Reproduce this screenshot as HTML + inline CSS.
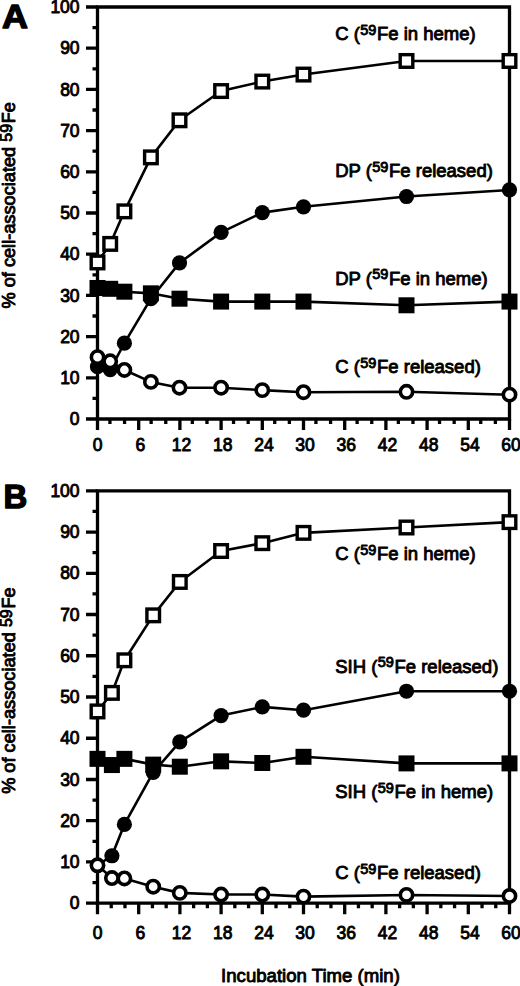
<!DOCTYPE html>
<html><head><meta charset="utf-8"><style>
html,body{margin:0;padding:0;background:#fff;}
svg{display:block;}
text{font-family:"Liberation Sans",sans-serif;fill:#000;stroke:#000;stroke-width:0.9px;stroke-linejoin:round;}
.t{font-size:17.5px;}
.l{font-size:18.5px;}
.s{font-size:14.5px;}
.y{font-size:18.2px;}
.ys{font-size:16.0px;}
.x{font-size:18.6px;}
.p{font-size:33.6px;font-weight:bold;stroke-width:1.4px;}
</style></head><body>
<svg width="520" height="986" viewBox="0 0 520 986">
<path d="M97.5 7H509.5V419H97.5Z" fill="none" stroke="#000" stroke-width="3.3"/>
<path d="M86 419H97.5 M92.5 398.4H97.5 M86 377.8H97.5 M92.5 357.2H97.5 M86 336.6H97.5 M92.5 316H97.5 M86 295.4H97.5 M92.5 274.8H97.5 M86 254.2H97.5 M92.5 233.6H97.5 M86 213H97.5 M92.5 192.4H97.5 M86 171.8H97.5 M92.5 151.2H97.5 M86 130.6H97.5 M92.5 110H97.5 M86 89.4H97.5 M92.5 68.8H97.5 M86 48.2H97.5 M92.5 27.6H97.5 M86 7H97.5 M97.5 419V430 M109.93 419V424 M124.57 419V424 M138.7 419V430 M151.13 419V424 M165.77 419V424 M179.9 419V430 M192.33 419V424 M206.97 419V424 M221.1 419V430 M233.53 419V424 M248.17 419V424 M262.3 419V430 M274.73 419V424 M289.37 419V424 M303.5 419V430 M315.93 419V424 M330.57 419V424 M344.7 419V430 M357.13 419V424 M371.77 419V424 M385.9 419V430 M398.33 419V424 M412.97 419V424 M427.1 419V430 M439.53 419V424 M454.17 419V424 M468.3 419V430 M480.73 419V424 M495.37 419V424 M509.5 419V430" stroke="#000" stroke-width="3.3" fill="none"/>
<text x="79.6" y="425.1" text-anchor="end" class="t">0</text>
<text x="79.6" y="383.9" text-anchor="end" class="t">10</text>
<text x="79.6" y="342.7" text-anchor="end" class="t">20</text>
<text x="79.6" y="301.5" text-anchor="end" class="t">30</text>
<text x="79.6" y="260.3" text-anchor="end" class="t">40</text>
<text x="79.6" y="219.1" text-anchor="end" class="t">50</text>
<text x="79.6" y="177.9" text-anchor="end" class="t">60</text>
<text x="79.6" y="136.7" text-anchor="end" class="t">70</text>
<text x="79.6" y="95.5" text-anchor="end" class="t">80</text>
<text x="79.6" y="54.3" text-anchor="end" class="t">90</text>
<text x="79.6" y="13.1" text-anchor="end" class="t">100</text>
<text x="97.5" y="451.1" text-anchor="middle" class="t">0</text>
<text x="140.3" y="451.1" text-anchor="middle" class="t">6</text>
<text x="181.5" y="451.1" text-anchor="middle" class="t">12</text>
<text x="222.7" y="451.1" text-anchor="middle" class="t">18</text>
<text x="263.9" y="451.1" text-anchor="middle" class="t">24</text>
<text x="305.1" y="451.1" text-anchor="middle" class="t">30</text>
<text x="346.3" y="451.1" text-anchor="middle" class="t">36</text>
<text x="387.5" y="451.1" text-anchor="middle" class="t">42</text>
<text x="428.7" y="451.1" text-anchor="middle" class="t">48</text>
<text x="469.9" y="451.1" text-anchor="middle" class="t">54</text>
<text x="511.1" y="451.1" text-anchor="middle" class="t">60</text>
<polyline points="97.5,287.98 110.2,288.81 124.4,291.69 150.9,293.34 179.5,298.7 221.1,301.58 262.3,301.58 303.5,301.58 406.5,305.29 509.5,301.58" fill="none" stroke="#000" stroke-width="2.6" stroke-linejoin="round"/>
<polyline points="97.5,366.68 110.2,369.56 124.4,343.19 150.9,298.7 179.5,262.85 221.1,232.36 262.3,212.59 303.5,206.82 406.5,196.52 509.5,189.93" fill="none" stroke="#000" stroke-width="2.6" stroke-linejoin="round"/>
<polyline points="97.5,262.44 110.2,243.9 124.4,211.35 150.9,157.38 179.5,120.3 221.1,91.05 262.3,81.57 303.5,74.57 406.5,60.97 509.5,60.97" fill="none" stroke="#000" stroke-width="2.6" stroke-linejoin="round"/>
<polyline points="97.5,357.2 110.2,361.32 124.4,369.97 150.9,381.92 179.5,387.69 221.1,387.69 262.3,390.16 303.5,392.22 406.5,391.81 509.5,394.69" fill="none" stroke="#000" stroke-width="2.6" stroke-linejoin="round"/>
<rect x="89.5" y="279.98" width="16.0" height="16.0"/>
<rect x="102.2" y="280.81" width="16.0" height="16.0"/>
<rect x="116.4" y="283.69" width="16.0" height="16.0"/>
<rect x="142.9" y="285.34" width="16.0" height="16.0"/>
<rect x="171.5" y="290.7" width="16.0" height="16.0"/>
<rect x="213.1" y="293.58" width="16.0" height="16.0"/>
<rect x="254.3" y="293.58" width="16.0" height="16.0"/>
<rect x="295.5" y="293.58" width="16.0" height="16.0"/>
<rect x="398.5" y="297.29" width="16.0" height="16.0"/>
<rect x="501.5" y="293.58" width="16.0" height="16.0"/>
<circle cx="97.5" cy="366.68" r="7.6"/>
<circle cx="110.2" cy="369.56" r="7.6"/>
<circle cx="124.4" cy="343.19" r="7.6"/>
<circle cx="150.9" cy="298.7" r="7.6"/>
<circle cx="179.5" cy="262.85" r="7.6"/>
<circle cx="221.1" cy="232.36" r="7.6"/>
<circle cx="262.3" cy="212.59" r="7.6"/>
<circle cx="303.5" cy="206.82" r="7.6"/>
<circle cx="406.5" cy="196.52" r="7.6"/>
<circle cx="509.5" cy="189.93" r="7.6"/>
<rect x="91.2" y="256.14" width="12.6" height="12.6" fill="#fff" stroke="#000" stroke-width="3.4"/>
<rect x="103.9" y="237.6" width="12.6" height="12.6" fill="#fff" stroke="#000" stroke-width="3.4"/>
<rect x="118.1" y="205.05" width="12.6" height="12.6" fill="#fff" stroke="#000" stroke-width="3.4"/>
<rect x="144.6" y="151.08" width="12.6" height="12.6" fill="#fff" stroke="#000" stroke-width="3.4"/>
<rect x="173.2" y="114" width="12.6" height="12.6" fill="#fff" stroke="#000" stroke-width="3.4"/>
<rect x="214.8" y="84.75" width="12.6" height="12.6" fill="#fff" stroke="#000" stroke-width="3.4"/>
<rect x="256" y="75.27" width="12.6" height="12.6" fill="#fff" stroke="#000" stroke-width="3.4"/>
<rect x="297.2" y="68.27" width="12.6" height="12.6" fill="#fff" stroke="#000" stroke-width="3.4"/>
<rect x="400.2" y="54.67" width="12.6" height="12.6" fill="#fff" stroke="#000" stroke-width="3.4"/>
<rect x="503.2" y="54.67" width="12.6" height="12.6" fill="#fff" stroke="#000" stroke-width="3.4"/>
<circle cx="97.5" cy="357.2" r="6.15" fill="#fff" stroke="#000" stroke-width="3.6"/>
<circle cx="110.2" cy="361.32" r="6.15" fill="#fff" stroke="#000" stroke-width="3.6"/>
<circle cx="124.4" cy="369.97" r="6.15" fill="#fff" stroke="#000" stroke-width="3.6"/>
<circle cx="150.9" cy="381.92" r="6.15" fill="#fff" stroke="#000" stroke-width="3.6"/>
<circle cx="179.5" cy="387.69" r="6.15" fill="#fff" stroke="#000" stroke-width="3.6"/>
<circle cx="221.1" cy="387.69" r="6.15" fill="#fff" stroke="#000" stroke-width="3.6"/>
<circle cx="262.3" cy="390.16" r="6.15" fill="#fff" stroke="#000" stroke-width="3.6"/>
<circle cx="303.5" cy="392.22" r="6.15" fill="#fff" stroke="#000" stroke-width="3.6"/>
<circle cx="406.5" cy="391.81" r="6.15" fill="#fff" stroke="#000" stroke-width="3.6"/>
<circle cx="509.5" cy="394.69" r="6.15" fill="#fff" stroke="#000" stroke-width="3.6"/>
<text x="335.2" y="40.2" class="l">C (<tspan class="s" dy="-5.2" dx="0.4">59</tspan><tspan dy="5.2" dx="0.6">Fe in heme)</tspan></text>
<text x="335.2" y="176.8" class="l">DP (<tspan class="s" dy="-5.2" dx="0.4">59</tspan><tspan dy="5.2" dx="0.6">Fe released)</tspan></text>
<text x="335.2" y="284.5" class="l">DP (<tspan class="s" dy="-5.2" dx="0.4">59</tspan><tspan dy="5.2" dx="0.6">Fe in heme)</tspan></text>
<text x="335.2" y="373.3" class="l">C (<tspan class="s" dy="-5.2" dx="0.4">59</tspan><tspan dy="5.2" dx="0.6">Fe released)</tspan></text>
<text transform="translate(2.1 28.4) scale(1.07 1)" class="p">A</text>
<text transform="translate(15.3 205.3) rotate(-90)" text-anchor="middle" class="y">% of cell-associated <tspan class="ys" dy="-3.6">59</tspan><tspan dy="3.6" dx="0.7">Fe</tspan></text>
<path d="M97.5 490.8H509.5V903.2H97.5Z" fill="none" stroke="#000" stroke-width="3.3"/>
<path d="M86 903.2H97.5 M92.5 882.58H97.5 M86 861.96H97.5 M92.5 841.34H97.5 M86 820.72H97.5 M92.5 800.1H97.5 M86 779.48H97.5 M92.5 758.86H97.5 M86 738.24H97.5 M92.5 717.62H97.5 M86 697H97.5 M92.5 676.38H97.5 M86 655.76H97.5 M92.5 635.14H97.5 M86 614.52H97.5 M92.5 593.9H97.5 M86 573.28H97.5 M92.5 552.66H97.5 M86 532.04H97.5 M92.5 511.42H97.5 M86 490.8H97.5 M97.5 903.2V914.2 M111.23 903.2V908.2 M124.97 903.2V908.2 M138.7 903.2V914.2 M152.43 903.2V908.2 M166.17 903.2V908.2 M179.9 903.2V914.2 M193.63 903.2V908.2 M207.37 903.2V908.2 M221.1 903.2V914.2 M234.83 903.2V908.2 M248.57 903.2V908.2 M262.3 903.2V914.2 M276.03 903.2V908.2 M289.77 903.2V908.2 M303.5 903.2V914.2 M317.23 903.2V908.2 M330.97 903.2V908.2 M344.7 903.2V914.2 M358.43 903.2V908.2 M372.17 903.2V908.2 M385.9 903.2V914.2 M399.63 903.2V908.2 M413.37 903.2V908.2 M427.1 903.2V914.2 M440.83 903.2V908.2 M454.57 903.2V908.2 M468.3 903.2V914.2 M482.03 903.2V908.2 M495.77 903.2V908.2 M509.5 903.2V914.2" stroke="#000" stroke-width="3.3" fill="none"/>
<text x="79.6" y="909.3" text-anchor="end" class="t">0</text>
<text x="79.6" y="868.06" text-anchor="end" class="t">10</text>
<text x="79.6" y="826.82" text-anchor="end" class="t">20</text>
<text x="79.6" y="785.58" text-anchor="end" class="t">30</text>
<text x="79.6" y="744.34" text-anchor="end" class="t">40</text>
<text x="79.6" y="703.1" text-anchor="end" class="t">50</text>
<text x="79.6" y="661.86" text-anchor="end" class="t">60</text>
<text x="79.6" y="620.62" text-anchor="end" class="t">70</text>
<text x="79.6" y="579.38" text-anchor="end" class="t">80</text>
<text x="79.6" y="538.14" text-anchor="end" class="t">90</text>
<text x="79.6" y="496.9" text-anchor="end" class="t">100</text>
<text x="97.5" y="938.7" text-anchor="middle" class="t">0</text>
<text x="140.3" y="938.7" text-anchor="middle" class="t">6</text>
<text x="181.5" y="938.7" text-anchor="middle" class="t">12</text>
<text x="222.7" y="938.7" text-anchor="middle" class="t">18</text>
<text x="263.9" y="938.7" text-anchor="middle" class="t">24</text>
<text x="305.1" y="938.7" text-anchor="middle" class="t">30</text>
<text x="346.3" y="938.7" text-anchor="middle" class="t">36</text>
<text x="387.5" y="938.7" text-anchor="middle" class="t">42</text>
<text x="428.7" y="938.7" text-anchor="middle" class="t">48</text>
<text x="469.9" y="938.7" text-anchor="middle" class="t">54</text>
<text x="511.1" y="938.7" text-anchor="middle" class="t">60</text>
<polyline points="97.5,758.86 111.9,765.05 124.4,758.86 153.2,764.63 179.8,766.7 221.1,761.33 262.3,762.98 303.5,756.8 406.5,763.4 509.5,763.4" fill="none" stroke="#000" stroke-width="2.6" stroke-linejoin="round"/>
<polyline points="97.5,865.26 111.9,855.77 124.4,824.43 153.2,772.47 179.8,741.95 221.1,715.56 262.3,706.9 303.5,710.2 406.5,691.23 509.5,691.23" fill="none" stroke="#000" stroke-width="2.6" stroke-linejoin="round"/>
<polyline points="97.5,711.43 111.9,692.88 124.4,660.3 153.2,615.34 179.8,581.94 221.1,551.01 262.3,543.17 303.5,532.86 406.5,527.5 509.5,522.14" fill="none" stroke="#000" stroke-width="2.6" stroke-linejoin="round"/>
<polyline points="97.5,865.26 111.9,878.04 124.4,878.46 153.2,886.7 179.8,892.89 221.1,894.54 262.3,894.54 303.5,896.6 406.5,894.95 509.5,895.98" fill="none" stroke="#000" stroke-width="2.6" stroke-linejoin="round"/>
<rect x="89.5" y="750.86" width="16.0" height="16.0"/>
<rect x="103.9" y="757.05" width="16.0" height="16.0"/>
<rect x="116.4" y="750.86" width="16.0" height="16.0"/>
<rect x="145.2" y="756.63" width="16.0" height="16.0"/>
<rect x="171.8" y="758.7" width="16.0" height="16.0"/>
<rect x="213.1" y="753.33" width="16.0" height="16.0"/>
<rect x="254.3" y="754.98" width="16.0" height="16.0"/>
<rect x="295.5" y="748.8" width="16.0" height="16.0"/>
<rect x="398.5" y="755.4" width="16.0" height="16.0"/>
<rect x="501.5" y="755.4" width="16.0" height="16.0"/>
<circle cx="97.5" cy="865.26" r="7.6"/>
<circle cx="111.9" cy="855.77" r="7.6"/>
<circle cx="124.4" cy="824.43" r="7.6"/>
<circle cx="153.2" cy="772.47" r="7.6"/>
<circle cx="179.8" cy="741.95" r="7.6"/>
<circle cx="221.1" cy="715.56" r="7.6"/>
<circle cx="262.3" cy="706.9" r="7.6"/>
<circle cx="303.5" cy="710.2" r="7.6"/>
<circle cx="406.5" cy="691.23" r="7.6"/>
<circle cx="509.5" cy="691.23" r="7.6"/>
<rect x="91.2" y="705.13" width="12.6" height="12.6" fill="#fff" stroke="#000" stroke-width="3.4"/>
<rect x="105.6" y="686.58" width="12.6" height="12.6" fill="#fff" stroke="#000" stroke-width="3.4"/>
<rect x="118.1" y="654" width="12.6" height="12.6" fill="#fff" stroke="#000" stroke-width="3.4"/>
<rect x="146.9" y="609.04" width="12.6" height="12.6" fill="#fff" stroke="#000" stroke-width="3.4"/>
<rect x="173.5" y="575.64" width="12.6" height="12.6" fill="#fff" stroke="#000" stroke-width="3.4"/>
<rect x="214.8" y="544.71" width="12.6" height="12.6" fill="#fff" stroke="#000" stroke-width="3.4"/>
<rect x="256" y="536.87" width="12.6" height="12.6" fill="#fff" stroke="#000" stroke-width="3.4"/>
<rect x="297.2" y="526.56" width="12.6" height="12.6" fill="#fff" stroke="#000" stroke-width="3.4"/>
<rect x="400.2" y="521.2" width="12.6" height="12.6" fill="#fff" stroke="#000" stroke-width="3.4"/>
<rect x="503.2" y="515.84" width="12.6" height="12.6" fill="#fff" stroke="#000" stroke-width="3.4"/>
<circle cx="97.5" cy="865.26" r="6.15" fill="#fff" stroke="#000" stroke-width="3.6"/>
<circle cx="111.9" cy="878.04" r="6.15" fill="#fff" stroke="#000" stroke-width="3.6"/>
<circle cx="124.4" cy="878.46" r="6.15" fill="#fff" stroke="#000" stroke-width="3.6"/>
<circle cx="153.2" cy="886.7" r="6.15" fill="#fff" stroke="#000" stroke-width="3.6"/>
<circle cx="179.8" cy="892.89" r="6.15" fill="#fff" stroke="#000" stroke-width="3.6"/>
<circle cx="221.1" cy="894.54" r="6.15" fill="#fff" stroke="#000" stroke-width="3.6"/>
<circle cx="262.3" cy="894.54" r="6.15" fill="#fff" stroke="#000" stroke-width="3.6"/>
<circle cx="303.5" cy="896.6" r="6.15" fill="#fff" stroke="#000" stroke-width="3.6"/>
<circle cx="406.5" cy="894.95" r="6.15" fill="#fff" stroke="#000" stroke-width="3.6"/>
<circle cx="509.5" cy="895.98" r="6.15" fill="#fff" stroke="#000" stroke-width="3.6"/>
<text x="335.2" y="560.0" class="l">C (<tspan class="s" dy="-5.2" dx="0.4">59</tspan><tspan dy="5.2" dx="0.6">Fe in heme)</tspan></text>
<text x="335.2" y="672.5" class="l">SIH (<tspan class="s" dy="-5.2" dx="0.4">59</tspan><tspan dy="5.2" dx="0.6">Fe released)</tspan></text>
<text x="335.2" y="797.7" class="l">SIH (<tspan class="s" dy="-5.2" dx="0.4">59</tspan><tspan dy="5.2" dx="0.6">Fe in heme)</tspan></text>
<text x="335.2" y="879.0" class="l">C (<tspan class="s" dy="-5.2" dx="0.4">59</tspan><tspan dy="5.2" dx="0.6">Fe released)</tspan></text>
<text transform="translate(3.6 508.3) scale(0.98 1)" class="p">B</text>
<text transform="translate(15.3 690.6) rotate(-90)" text-anchor="middle" class="y">% of cell-associated <tspan class="ys" dy="-3.6">59</tspan><tspan dy="3.6" dx="0.7">Fe</tspan></text>
<text x="310.5" y="981.6" text-anchor="middle" class="x">Incubation Time (min)</text>
</svg>
</body></html>
